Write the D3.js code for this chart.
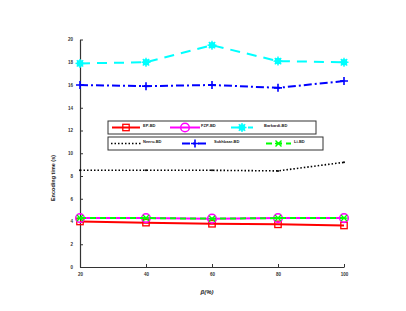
<!DOCTYPE html>
<html>
<head>
<meta charset="utf-8">
<script src="https://cdn.jsdelivr.net/npm/d3@7"></script>
<style>
  body { margin: 0; background: #fff; }
  svg { font-family: "Liberation Sans", Arial, sans-serif; }
</style>
</head>
<body>
<div id="chart"></div>
<script>
var betaValues = [20, 40, 60, 80, 100];
var yTicks = [0, 2, 4, 6, 8, 10, 12, 14, 16, 18, 20];

var epBD = [4.0, 3.9, 3.8, 3.75, 3.65];
var fzpBD = [4.3, 4.3, 4.25, 4.3, 4.3];
var barkardiBD = [17.9, 18.0, 19.5, 18.1, 18.0];
var neeruBD = [8.5, 8.5, 8.5, 8.45, 9.2];
var sukhbaarBD = [16.0, 15.9, 16.0, 15.75, 16.35];
var liBD = [4.3, 4.3, 4.25, 4.3, 4.3];

var seriesNames = ["EP-BD", "FZP-BD", "Barkardi-BD", "Neeru-BD", "Sukhbaar-BD", "Li-BD"];

var width = 406, height = 311;
var plotLeft = 80, plotRight = 344, plotTop = 39.5, plotBottom = 267;

var svg = d3.select("#chart").append("svg")
  .attr("width", width)
  .attr("height", height);

var x = d3.scaleLinear().domain([20, 100]).range([plotLeft, plotRight]);
var y = d3.scaleLinear().domain([0, 20]).range([plotBottom, plotTop]);

var series = [
  {name: seriesNames[0], values: epBD, color: "#ff0000", dash: null, marker: "square"},
  {name: seriesNames[1], values: fzpBD, color: "#ff00ff", dash: null, marker: "circle"},
  {name: seriesNames[2], values: barkardiBD, color: "#00ffff", dash: "10,7", marker: "star"},
  {name: seriesNames[3], values: neeruBD, color: "#000000", dash: "1.5,2", marker: "dot"},
  {name: seriesNames[4], values: sukhbaarBD, color: "#0000ff", dash: "8,3,2,3", marker: "plus"},
  {name: seriesNames[5], values: liBD, color: "#00ff00", dash: "6,4", marker: "cross"}
];

// axes
var xAxis = d3.axisBottom(x).tickValues(betaValues).tickSizeInner(-3).tickSizeOuter(0).tickPadding(6);
var yAxis = d3.axisLeft(y).tickValues(yTicks).tickSizeInner(-3).tickSizeOuter(0).tickPadding(7);

var gx = svg.append("g").attr("transform", "translate(0," + plotBottom + ")").call(xAxis);
var gy = svg.append("g").attr("transform", "translate(" + plotLeft + ",0)").call(yAxis);
[gx, gy].forEach(function(g) {
  g.select(".domain").attr("stroke", "#333").attr("stroke-width", 1.2);
  g.selectAll(".tick line").attr("stroke", "#333").attr("stroke-width", 1);
  g.selectAll(".tick text").attr("font-size", 4.5).attr("font-weight", "bold").attr("fill", "#333");
});

svg.append("text")
  .attr("transform", "translate(55,178) rotate(-90)")
  .attr("text-anchor", "middle")
  .attr("font-size", 5.5)
  .attr("font-weight", "bold")
  .attr("fill", "#222")
  .text("Encoding time (s)");

svg.append("text")
  .attr("x", 207).attr("y", 294)
  .attr("text-anchor", "middle")
  .attr("font-size", 6)
  .attr("font-weight", "bold")
  .attr("font-style", "italic")
  .attr("fill", "#222")
  .text("β(%)");

function drawMarker(g, type, cx, cy, color) {
  if (type === "square") {
    g.append("rect").attr("x", cx - 3.2).attr("y", cy - 3.2).attr("width", 6.4).attr("height", 6.4)
      .attr("fill", "none").attr("stroke", color).attr("stroke-width", 1.3);
  } else if (type === "circle") {
    g.append("circle").attr("cx", cx).attr("cy", cy).attr("r", 4.3)
      .attr("fill", "none").attr("stroke", color).attr("stroke-width", 1.5);
  } else if (type === "star") {
    g.append("circle").attr("cx", cx).attr("cy", cy).attr("r", 3.3).attr("fill", color);
    for (var i = 0; i < 4; i++) {
      var a = i * Math.PI / 4;
      g.append("line")
        .attr("x1", cx - 4.5 * Math.cos(a)).attr("y1", cy - 4.5 * Math.sin(a))
        .attr("x2", cx + 4.5 * Math.cos(a)).attr("y2", cy + 4.5 * Math.sin(a))
        .attr("stroke", color).attr("stroke-width", 1.4);
    }
  } else if (type === "dot") {
    g.append("circle").attr("cx", cx).attr("cy", cy).attr("r", 1).attr("fill", color);
  } else if (type === "plus") {
    g.append("path").attr("d", "M" + (cx - 4) + "," + cy + "H" + (cx + 4) + "M" + cx + "," + (cy - 4) + "V" + (cy + 4))
      .attr("stroke", color).attr("stroke-width", 1.6);
  } else if (type === "cross") {
    g.append("path").attr("d", "M" + (cx - 3) + "," + (cy - 3) + "L" + (cx + 3) + "," + (cy + 3) +
      "M" + (cx - 3) + "," + (cy + 3) + "L" + (cx + 3) + "," + (cy - 3) +
      "M" + (cx - 3.5) + "," + cy + "H" + (cx + 3.5))
      .attr("stroke", color).attr("stroke-width", 1.4);
  }
}

var line = d3.line()
  .x(function(d, i) { return x(betaValues[i]); })
  .y(function(d) { return y(d); });

var drawOrder = [3, 4, 2, 0, 1, 5];
drawOrder.forEach(function(k) {
  var s = series[k];
  var g = svg.append("g");
  g.append("path")
    .datum(s.values)
    .attr("d", line)
    .attr("fill", "none")
    .attr("stroke", s.color)
    .attr("stroke-width", s.marker === "dot" ? 1.6 : 2)
    .attr("stroke-dasharray", s.dash);
  s.values.forEach(function(v, i) {
    drawMarker(g, s.marker, x(betaValues[i]), y(v), s.color);
  });
});

// legends
var legendBoxes = [
  {x: 108, y: 121, w: 208, h: 13, items: [0, 1, 2], lx: [112, 170, 231], lw: [28, 30, 22], tx: [143, 201, 264]},
  {x: 108, y: 137, w: 215, h: 13, items: [3, 4, 5], lx: [111, 182, 266], lw: [31, 26, 25], tx: [143, 214, 294]}
];

legendBoxes.forEach(function(b) {
  var g = svg.append("g");
  g.append("rect").attr("x", b.x).attr("y", b.y).attr("width", b.w).attr("height", b.h)
    .attr("fill", "#fff").attr("stroke", "#333").attr("stroke-width", 1);
  b.items.forEach(function(k, j) {
    var s = series[k];
    var cy = b.y + b.h / 2;
    g.append("line")
      .attr("x1", b.lx[j]).attr("x2", b.lx[j] + b.lw[j])
      .attr("y1", cy).attr("y2", cy)
      .attr("stroke", s.color)
      .attr("stroke-width", s.marker === "dot" ? 1.6 : 2)
      .attr("stroke-dasharray", s.dash);
    if (s.marker !== "dot") drawMarker(g, s.marker, b.lx[j] + b.lw[j] / 2, cy, s.color);
    g.append("text")
      .attr("x", b.tx[j]).attr("y", cy - 1)
      .attr("font-size", 4)
      .attr("font-weight", "bold")
      .attr("fill", "#222")
      .text(s.name);
  });
});
</script>
</body>
</html>
